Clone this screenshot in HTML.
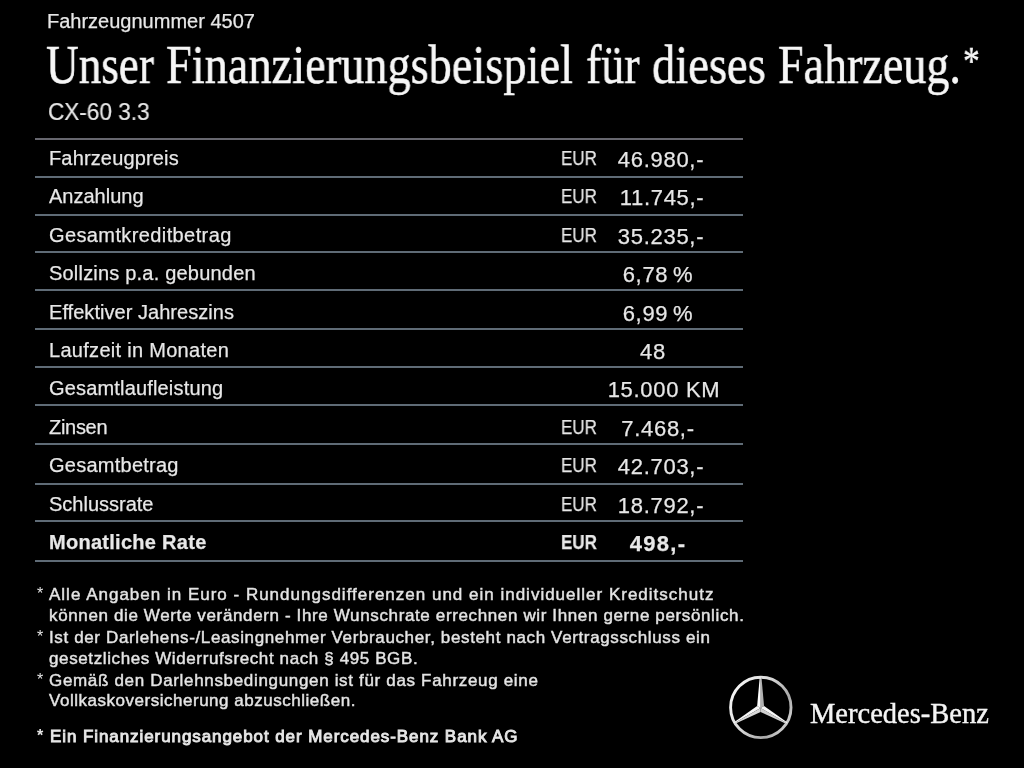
<!DOCTYPE html>
<html><head><meta charset="utf-8">
<style>
html,body{margin:0;padding:0;background:#000;width:1024px;height:768px;overflow:hidden;}
body{position:relative;font-family:"Liberation Sans",sans-serif;color:#e8e8e8;}
.a{position:absolute;white-space:nowrap;line-height:1;will-change:transform;}
.ln{position:absolute;left:35px;width:708px;height:2px;background:#5f6b76;}
.lb{left:49px;font-size:20px;-webkit-text-stroke:0.25px #e0e0e0;}
.eur{left:561px;font-size:20px;-webkit-text-stroke:0.25px #e0e0e0;transform-origin:0 0;transform:scaleX(0.85);}
.val{font-size:22px;-webkit-text-stroke:0.25px #e0e0e0;letter-spacing:0.7px;transform:translateX(-50%);}
.note{left:49px;font-size:17px;letter-spacing:1px;-webkit-text-stroke:0.5px #d8d8d8;}
.star{left:37px;font-size:16px;}
.tw{font-family:'Liberation Serif',serif;font-size:55px;transform-origin:0 0;color:#f6f6f6;-webkit-text-stroke:0.55px #f6f6f6;}
</style></head><body>
<div class="a" id="fz" style="left:47px;top:10.5px;font-size:20px;-webkit-text-stroke:0.25px #e0e0e0;">Fahrzeugnummer 4507</div>
<div class="a tw" id="t0" style="left:45.5px;top:37px;transform:scaleX(0.822)">Unser</div>
<div class="a tw" id="t1" style="left:166px;top:37px;transform:scaleX(0.843)">Finanzierungsbeispiel</div>
<div class="a tw" id="t2" style="left:586px;top:37px;transform:scaleX(0.837)">für</div>
<div class="a tw" id="t3" style="left:652px;top:37px;transform:scaleX(0.847)">dieses</div>
<div class="a tw" id="t4" style="left:778px;top:37px;transform:scaleX(0.837)">Fahrzeug.</div>
<div class="a tw" id="t5" style="left:963px;top:41px;font-size:40px;transform:scaleX(0.837)">*</div>
<div class="a" id="cx" style="left:48px;top:99.5px;-webkit-text-stroke:0.2px #e0e0e0;font-size:24px;transform-origin:0 0;transform:scaleX(0.94);">CX-60 3.3</div>

<div class="ln" style="top:138px;background:#67676f"></div>
<div class="ln" style="top:176px"></div>
<div class="ln" style="top:214px"></div>
<div class="ln" style="top:251px"></div>
<div class="ln" style="top:289px"></div>
<div class="ln" style="top:328px"></div>
<div class="ln" style="top:366px"></div>
<div class="ln" style="top:404px"></div>
<div class="ln" style="top:443px"></div>
<div class="ln" style="top:483px"></div>
<div class="ln" style="top:520px"></div>
<div class="ln" style="top:560px"></div>

<div class="a lb" style="top:148px;letter-spacing:0.15px">Fahrzeugpreis</div>
<div class="a lb" style="top:186px">Anzahlung</div>
<div class="a lb" style="top:225px;letter-spacing:0.39px">Gesamtkreditbetrag</div>
<div class="a lb" style="top:263px;letter-spacing:0.2px">Sollzins p.a. gebunden</div>
<div class="a lb" style="top:302px;letter-spacing:0.04px">Effektiver Jahreszins</div>
<div class="a lb" style="top:340px;letter-spacing:0.29px">Laufzeit in Monaten</div>
<div class="a lb" style="top:378px;letter-spacing:0.17px">Gesamtlaufleistung</div>
<div class="a lb" style="top:417px;letter-spacing:-0.3px">Zinsen</div>
<div class="a lb" style="top:455px;letter-spacing:0.25px">Gesamtbetrag</div>
<div class="a lb" style="top:494px">Schlussrate</div>
<div class="a lb" style="top:532px;font-weight:bold;letter-spacing:0.28px">Monatliche Rate</div>

<div class="a eur" style="top:148px">EUR</div>
<div class="a eur" style="top:186px">EUR</div>
<div class="a eur" style="top:225px">EUR</div>
<div class="a eur" style="top:417px">EUR</div>
<div class="a eur" style="top:455px">EUR</div>
<div class="a eur" style="top:494px">EUR</div>
<div class="a eur" style="top:532px;font-weight:bold">EUR</div>

<div class="a val" style="left:661px;top:149px">46.980,-</div>
<div class="a val" style="left:662px;top:187px">11.745,-</div>
<div class="a val" style="left:661px;top:226px">35.235,-</div>
<div class="a val" style="left:658px;top:264px;word-spacing:-2px">6,78 %</div>
<div class="a val" style="left:658px;top:303px;word-spacing:-2px">6,99 %</div>
<div class="a val" style="left:653px;top:341px">48</div>
<div class="a val" style="left:664px;top:379px">15.000 KM</div>
<div class="a val" style="left:658px;top:418px">7.468,-</div>
<div class="a val" style="left:661px;top:456px">42.703,-</div>
<div class="a val" style="left:661px;top:495px">18.792,-</div>
<div class="a val" style="left:658px;top:533px;font-weight:bold;letter-spacing:1.3px">498,-</div>

<div class="a star" style="top:586px">*</div>
<div class="a note" style="top:586px">Alle Angaben in Euro - Rundungsdifferenzen und ein individueller Kreditschutz</div>
<div class="a note" style="top:607px;letter-spacing:0.63px">können die Werte verändern - Ihre Wunschrate errechnen wir Ihnen gerne persönlich.</div>
<div class="a star" style="top:629px">*</div>
<div class="a note" style="top:629px;letter-spacing:0.63px">Ist der Darlehens-/Leasingnehmer Verbraucher, besteht nach Vertragsschluss ein</div>
<div class="a note" style="top:649.5px;letter-spacing:0.61px">gesetzliches Widerrufsrecht nach § 495 BGB.</div>
<div class="a star" style="top:671.5px">*</div>
<div class="a note" style="top:671.5px;letter-spacing:0.67px">Gemäß den Darlehnsbedingungen ist für das Fahrzeug eine</div>
<div class="a note" style="top:692px;letter-spacing:0.52px">Vollkaskoversicherung abzuschließen.</div>
<div class="a star" style="top:728px;font-weight:bold">*</div>
<div class="a note" style="top:728px;left:50px;font-weight:normal;letter-spacing:0.92px;-webkit-text-stroke:0.9px #e6e6e6">Ein Finanzierungsangebot der Mercedes-Benz Bank AG</div>

<svg class="a" style="left:0;top:0" width="1024" height="768" viewBox="0 0 1024 768">
  <defs>
    <linearGradient id="rg" x1="0" y1="0" x2="1" y2="0.6">
      <stop offset="0" stop-color="#ffffff"/>
      <stop offset="0.5" stop-color="#d8d8d8"/>
      <stop offset="0.85" stop-color="#a8a8a8"/>
      <stop offset="1" stop-color="#c8c8c8"/>
    </linearGradient>
    <filter id="bl" x="-10%" y="-10%" width="120%" height="120%"><feGaussianBlur stdDeviation="0.4"/></filter>
  </defs>
  <g filter="url(#bl)">
  <circle cx="760.8" cy="707.4" r="30.2" fill="none" stroke="url(#rg)" stroke-width="2.9"/>
  <polygon points="760.60,677.50 761.50,677.50 764.06,706.00 760.60,708.00" fill="#b0b0b0"/><polygon points="760.60,677.50 759.70,677.50 757.14,706.00 760.60,708.00" fill="#ffffff"/>
  <polygon points="787.01,723.25 786.56,724.03 760.60,712.00 760.60,708.00" fill="#d0d0d0"/><polygon points="787.01,723.25 787.46,722.47 764.06,706.00 760.60,708.00" fill="#f8f8f8"/>
  <polygon points="734.19,723.25 733.74,722.47 757.14,706.00 760.60,708.00" fill="#f8f8f8"/><polygon points="734.19,723.25 734.64,724.03 760.60,712.00 760.60,708.00" fill="#d8d8d8"/>
  </g>
</svg>
<div class="a" id="mb" style="left:810px;top:699.5px;font-family:'Liberation Serif',serif;font-size:28.5px;color:#f4f4f4;-webkit-text-stroke:0.4px #f4f4f4;">Mercedes-Benz</div>
</body></html>
